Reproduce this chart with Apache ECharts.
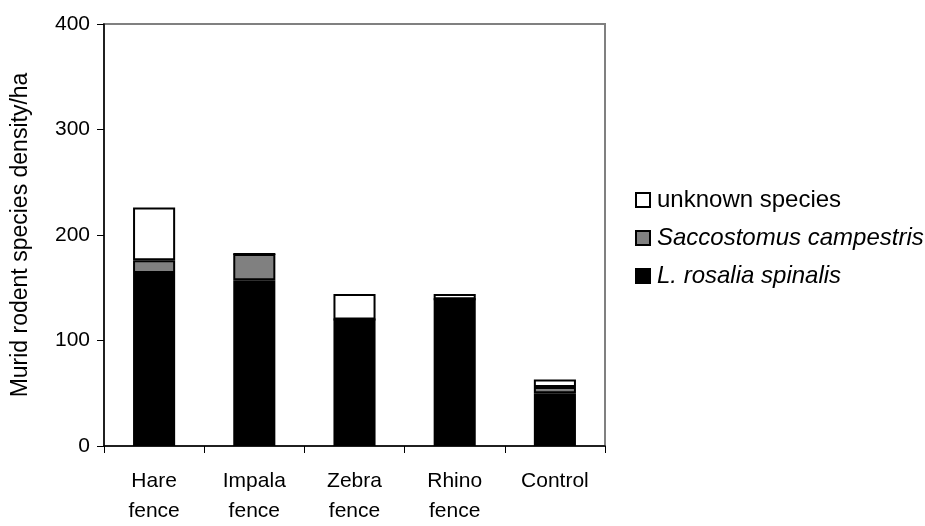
<!DOCTYPE html>
<html><head><meta charset="utf-8">
<script src="https://cdn.jsdelivr.net/npm/echarts@6/dist/echarts.min.js"></script>
<style>html,body{margin:0;padding:0;background:#fff}#c{width:925px;height:526px}</style>
</head><body><div id="c"></div>
<script>
const categories = ['Hare\nfence', 'Impala\nfence', 'Zebra\nfence', 'Rhino\nfence', 'Control'];
const rosalia = [164, 157, 120, 139, 50];
const saccostomus = [12, 25, 0, 0, 6];
const unknown = [50, 0, 24, 5, 7];
const yTicks = [0, 100, 200, 300, 400];

const font = 'Liberation Sans, Arial, sans-serif';
const chart = echarts.init(document.getElementById('c'));
const border = {borderColor: '#000', borderWidth: 2};
chart.setOption({
  animation: false,
  grid: {left: 104, top: 24, right: 320, bottom: 74, show: true, borderColor: '#808080', borderWidth: 2, backgroundColor: 'transparent'},
  legend: {
    orient: 'vertical', left: 635, top: 188, padding: 0, itemGap: 14, itemWidth: 14, itemHeight: 14, icon: 'rect',
    data: ['unknown species', 'Saccostomus campestris', 'L. rosalia spinalis'],
    textStyle: {fontFamily: font, fontSize: 24, color: '#000', padding: [0,0,0,2],
      rich: {i: {fontFamily: font, fontSize: 24, fontStyle: 'italic', color: '#000'}}},
    formatter: n => n === 'unknown species' ? n : '{i|' + n + '}'
  },
  xAxis: {
    type: 'category', data: categories,
    axisLine: {lineStyle: {color: '#000', width: 1.5}},
    axisTick: {show: true, length: 7, lineStyle: {color: '#000'}},
    axisLabel: {fontFamily: font, fontSize: 21, color: '#000', margin: 20, lineHeight: 30}
  },
  yAxis: {
    type: 'value', min: 0, max: 400, interval: 100,
    name: 'Murid rodent species density/ha', nameLocation: 'middle', nameGap: 72,
    nameTextStyle: {fontFamily: font, fontSize: 23, color: '#000'},
    axisLine: {show: true, lineStyle: {color: '#000', width: 1.5}},
    axisTick: {show: true, length: 7, lineStyle: {color: '#000'}},
    splitLine: {show: false},
    axisLabel: {fontFamily: font, fontSize: 21, color: '#000', margin: 14,
      formatter: v => yTicks.includes(v) ? String(v) : ''}
  },
  series: [
    {name: 'L. rosalia spinalis', type: 'bar', stack: 's', data: rosalia, barWidth: '42%', itemStyle: Object.assign({color: '#000'}, border)},
    {name: 'Saccostomus campestris', type: 'bar', stack: 's', data: saccostomus, itemStyle: Object.assign({color: '#808080'}, border)},
    {name: 'unknown species', type: 'bar', stack: 's', data: unknown, itemStyle: Object.assign({color: '#fff'}, border)}
  ]
});
</script></body></html>
